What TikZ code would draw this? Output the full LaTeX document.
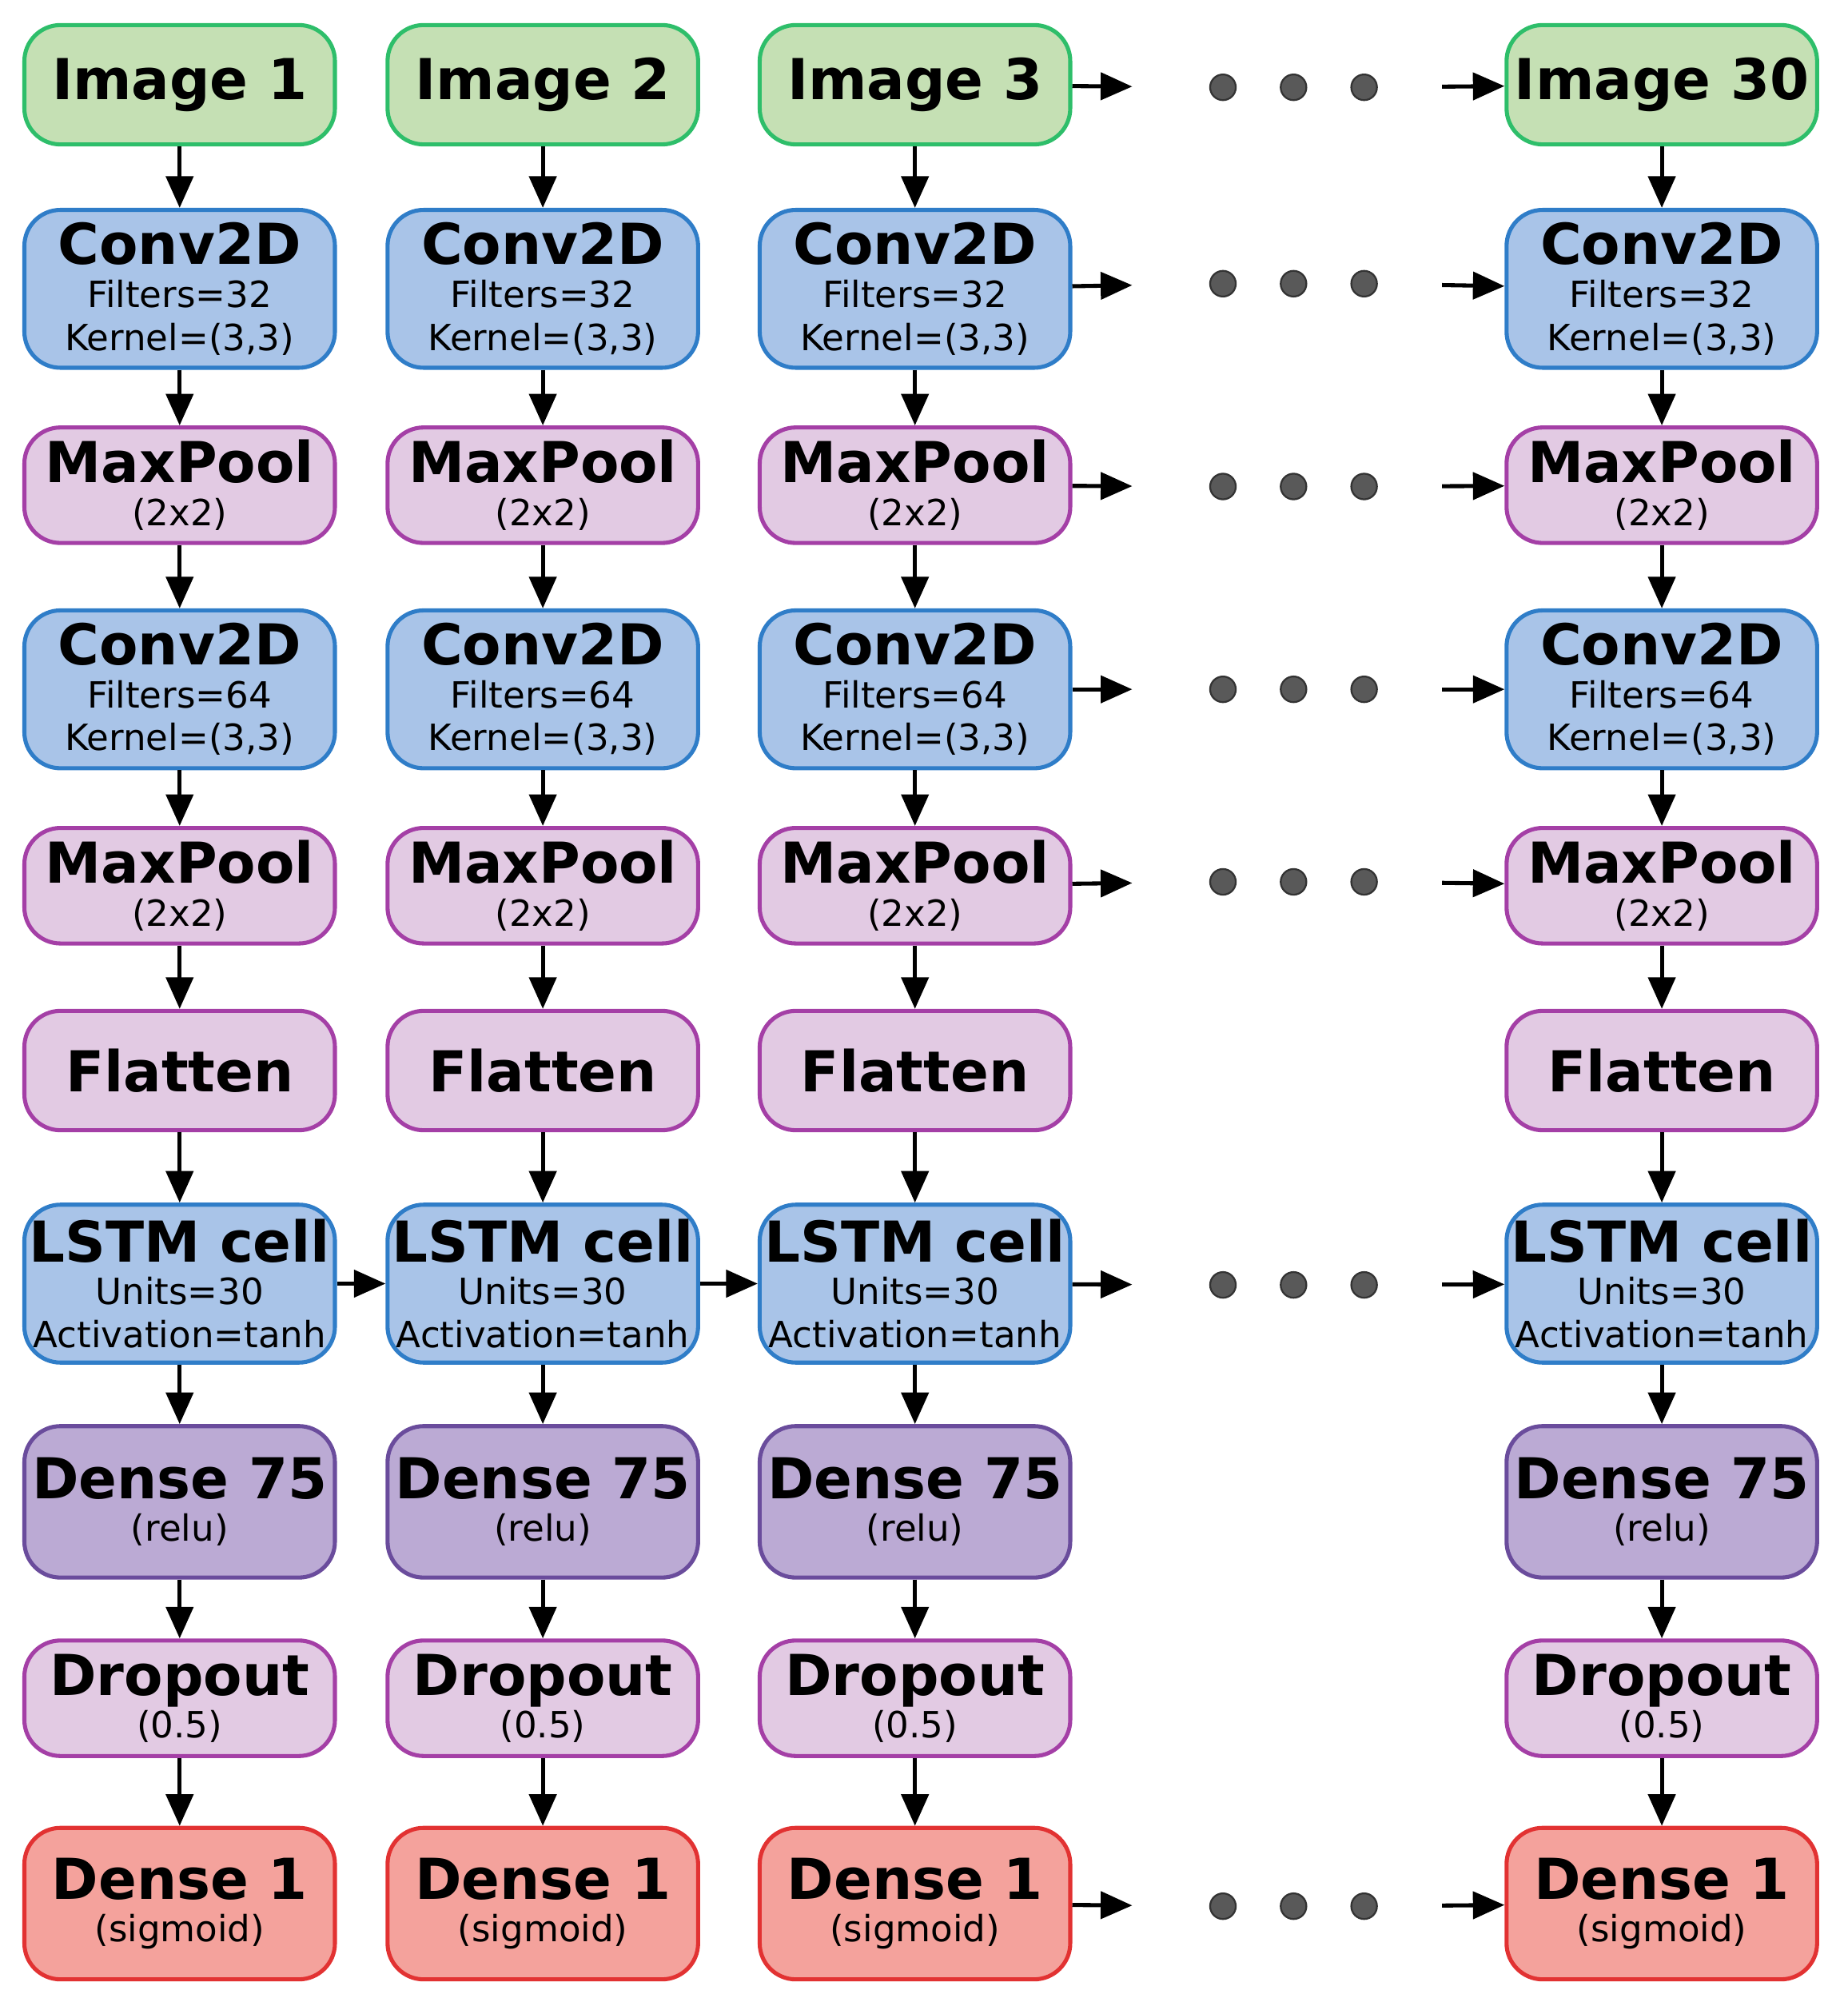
\documentclass[tikz,border=0pt]{standalone}
\usepackage{fontspec}
\setmainfont{DejaVu Sans}
\usetikzlibrary{arrows.meta,positioning}
\definecolor{imgfill}{HTML}{C5E0B4}\definecolor{imgline}{HTML}{2EBE6A}
\definecolor{convfill}{HTML}{A9C4E8}\definecolor{convline}{HTML}{2F7DC8}
\definecolor{poolfill}{HTML}{E2CAE3}\definecolor{poolline}{HTML}{A43FA6}
\definecolor{densefill}{HTML}{BBAAD4}\definecolor{denseline}{HTML}{6A4C9C}
\definecolor{sigfill}{HTML}{F4A29C}\definecolor{sigline}{HTML}{E23232}
\tikzset{
  box/.style={rectangle,rounded corners=8pt,line width=0.9pt,minimum width=2.42cm,align=center,inner sep=1pt,font=\fontsize{8}{9.5}\selectfont},
  img/.style={box,fill=imgfill,draw=imgline,minimum height=0.93cm},
  conv/.style={box,fill=convfill,draw=convline,minimum height=1.23cm},
  pool/.style={box,fill=poolfill,draw=poolline,minimum height=0.9cm},
  dense/.style={box,fill=densefill,draw=denseline,minimum height=1.18cm},
  sig/.style={box,fill=sigfill,draw=sigline,minimum height=1.18cm},
  dot/.style={circle,fill=black!65,draw=black!80,minimum size=0.2cm,inner sep=0pt},
  arr/.style={-{Triangle[length=7pt,width=6pt]},line width=0.9pt}
}
\newcommand{\ttl}[1]{{\fontsize{12.5}{13}\selectfont\bfseries #1}}
\begin{document}
\begin{tikzpicture}
\useasboundingbox (0,0) rectangle (14.4,-15.69);
\foreach \c/\x/\n in {1/1.40/1,2/4.23/2,3/7.13/3,4/12.95/30}{
  \node[img] (img\c) at (\x,-0.66) {\ttl{Image \n}};
  \node[conv] (cva\c) at (\x,-2.25) {\ttl{Conv2D}\\Filters=32\\Kernel=(3,3)};
  \node[pool] (mpa\c) at (\x,-3.78) {\ttl{MaxPool}\\(2x2)};
  \node[conv] (cvb\c) at (\x,-5.37) {\ttl{Conv2D}\\Filters=64\\Kernel=(3,3)};
  \node[pool] (mpb\c) at (\x,-6.90) {\ttl{MaxPool}\\(2x2)};
  \node[pool,minimum height=0.93cm] (flat\c) at (\x,-8.34) {\ttl{Flatten}};
  \node[conv] (lstm\c) at (\x,-10.00) {\ttl{LSTM cell}\\Units=30\\Activation=tanh};
  \node[dense] (dns\c) at (\x,-11.70) {\ttl{Dense 75}\\(relu)};
  \node[pool] (drop\c) at (\x,-13.23) {\ttl{Dropout}\\(0.5)};
  \node[sig] (dout\c) at (\x,-14.83) {\ttl{Dense 1}\\(sigmoid)};
  \foreach \a/\b in {img/cva,cva/mpa,mpa/cvb,cvb/mpb,mpb/flat,flat/lstm,lstm/dns,dns/drop,drop/dout}
    \draw[arr] (\a\c) -- (\b\c);
}
% dots between column 3 and column 30
\foreach \r/\y in {img/-0.68,cva/-2.21,mpa/-3.79,cvb/-5.37,mpb/-6.87,lstm/-10.01,dout/-14.85}{
  \node[dot] (\r d1) at (9.53,\y) {};
  \node[dot] (\r d2) at (10.08,\y) {};
  \node[dot] (\r d3) at (10.63,\y) {};
  \draw[arr,shorten >=0.6cm] (\r3) -- (\r d1);
  \draw[arr,shorten <=0.5cm] (\r d3) -- (\r4);
}
\draw[arr] (lstm1) -- (lstm2);
\draw[arr] (lstm2) -- (lstm3);
\end{tikzpicture}
\end{document}
